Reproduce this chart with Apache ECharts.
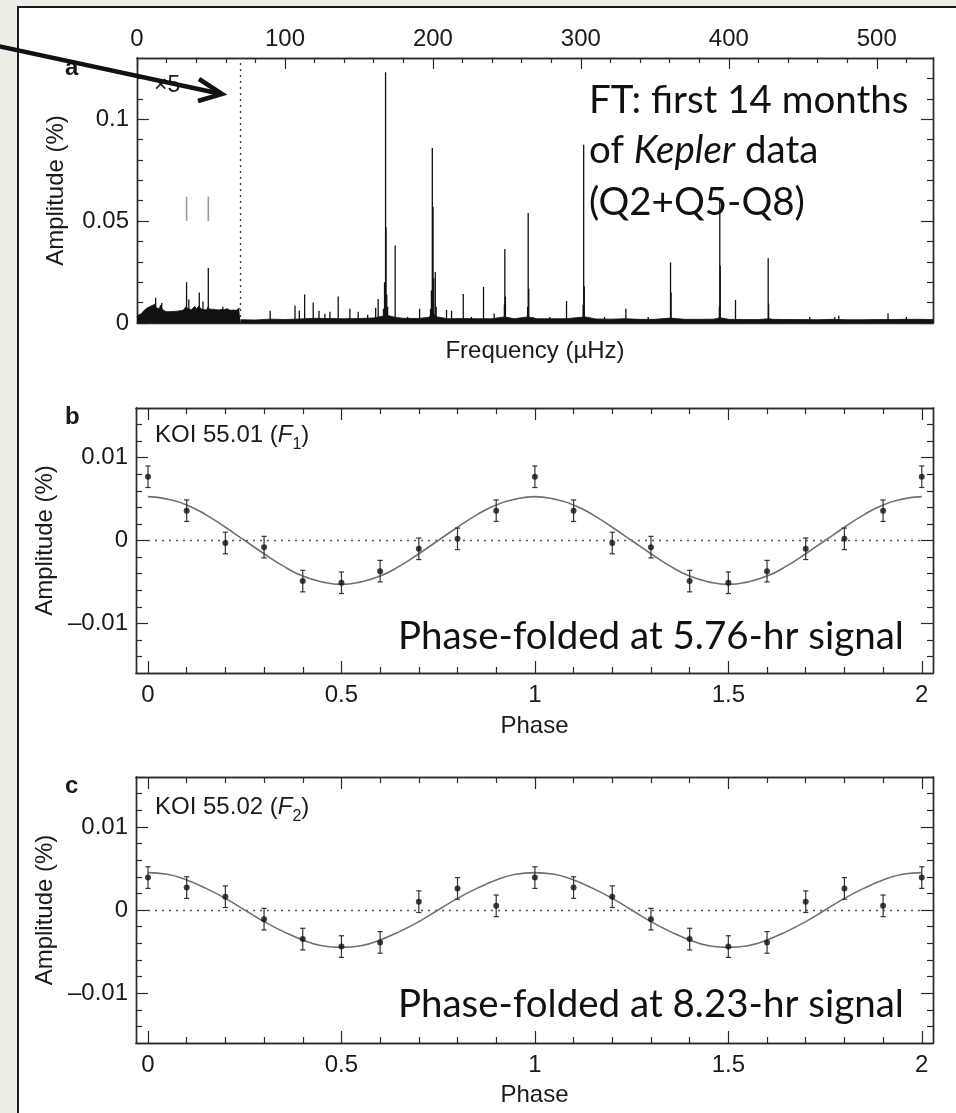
<!DOCTYPE html>
<html><head><meta charset="utf-8">
<script src="https://cdn.jsdelivr.net/npm/echarts@6/dist/echarts.min.js"></script>
<style>
html,body{margin:0;padding:0;width:956px;height:1113px;overflow:hidden;background:#eeede6;}
#panel{position:absolute;left:17px;top:6px;width:980px;height:1140px;border:2px solid #1a1a1a;background:#fff;box-sizing:border-box;}
#chart{position:absolute;left:0;top:0;width:956px;height:1113px;}
</style></head><body>
<div id="panel"></div><div id="chart"></div>
<script>
// ---------- Panel a: Fourier transform (frequency in µHz, amplitude in %) ----------
const freqTickLabels = [0, 100, 200, 300, 400, 500];
const freqMinorTicks = [20,40,60,80,120,140,160,180,220,240,260,280,320,340,360,380,420,440,460,480,520];
const ampTicksA = [0, 0.05, 0.1];
const ampMinorA = [0.01,0.02,0.03,0.04,0.06,0.07,0.08,0.09,0.11,0.12];

// low-frequency region (×5 amplified), noise band
const lowBand = [[0,0.0030],[1,0.0040],[2,0.0048],[3,0.0045],[4,0.0055],[5,0.0062],[6,0.0070],[7,0.0066],[8,0.0078],[9,0.0072],
[10,0.0085],[11,0.0080],[12,0.0092],[13,0.0075],[14,0.0082],[15,0.0070],[16,0.0088],[17,0.0068],[18,0.0062],[19,0.0058],
[20,0.0060],[21,0.0055],[22,0.0058],[23,0.0056],[24,0.0060],[25,0.0057],[26,0.0062],[27,0.0058],[28,0.0064],[29,0.0060],
[30,0.0066],[31,0.0062],[32,0.0070],[33,0.0078],[34,0.0072],[35,0.0068],[36,0.0074],[37,0.0066],[38,0.0070],[39,0.0082],
[40,0.0068],[41,0.0072],[42,0.0085],[43,0.0070],[44,0.0078],[45,0.0066],[46,0.0070],[47,0.0064],[48,0.0080],[49,0.0068],
[50,0.0064],[51,0.0068],[52,0.0062],[53,0.0066],[54,0.0070],[55,0.0064],[56,0.0072],[57,0.0066],[58,0.0074],[59,0.0066],
[60,0.0064],[61,0.0070],[62,0.0066],[63,0.0062],[64,0.0068],[65,0.0064],[66,0.0070],[67,0.0062],[68,0.0066],[69,0.0072],[70,0.0068]];

// noise floor above 70 µHz
const highFloor = [[70,0.0016],[80,0.0015],[90,0.0019],[100,0.0017],[110,0.0020],[120,0.0023],[130,0.0022],[140,0.0021],[150,0.0022],
[160,0.0025],[165,0.0032],[170,0.0036],[175,0.0027],[180,0.0023],[190,0.0022],[197,0.0028],[200,0.0045],[203,0.0030],[210,0.0021],
[220,0.0022],[230,0.0021],[240,0.0021],[248,0.0030],[250,0.0028],[255,0.0021],[264,0.0030],[270,0.0021],[280,0.0021],[290,0.0021],
[300,0.0028],[303,0.0030],[310,0.0020],[320,0.0019],[330,0.0021],[340,0.0018],[350,0.0018],[360,0.0024],[370,0.0018],[380,0.0018],
[390,0.0019],[394,0.0026],[400,0.0018],[410,0.0017],[420,0.0017],[427,0.0021],[430,0.0018],[440,0.0017],[450,0.0017],[460,0.0016],
[470,0.0018],[480,0.0016],[490,0.0016],[500,0.0017],[510,0.0017],[520,0.0018],[530,0.0018],[538,0.0017]];

// individual peaks [frequency, amplitude]
const peaks = [[12.6,0.0124],[16.7,0.0098],[33.5,0.0200],[35.0,0.0115],[42.1,0.0150],[44.6,0.0105],[48.2,0.0270],[58.0,0.0080],
[90.0,0.0060],[106.8,0.0085],[109.7,0.0060],[113.3,0.0140],[119.1,0.0100],[123.0,0.0060],[127.0,0.0045],[130.4,0.0055],
[136.0,0.0130],[143.9,0.0070],[149.5,0.0055],[155.9,0.0040],[161.3,0.0075],[163.0,0.0118],[166.6,0.0070],[167.3,0.0200],
[168.0,0.1230],[168.3,0.0470],[168.8,0.0140],[169.4,0.0080],[174.5,0.0380],[182.9,0.0030],[191.0,0.0070],[198.4,0.0070],
[199.0,0.0160],[199.6,0.0858],[200.1,0.0570],[200.6,0.0220],[201.6,0.0250],[202.2,0.0080],[209.2,0.0064],[212.6,0.0060],
[220.5,0.0142],[226.0,0.0030],[234.2,0.0177],[241.4,0.0047],[248.3,0.0090],[248.6,0.0363],[249.0,0.0130],[264.0,0.0080],
[264.4,0.0540],[264.8,0.0168],[267.8,0.0030],[279.0,0.0030],[290.3,0.0108],[301.5,0.0090],[301.9,0.0874],[302.3,0.0180],
[316.0,0.0030],[330.4,0.0070],[345.5,0.0030],[360.6,0.0297],[361.0,0.0150],[393.6,0.0080],[393.9,0.0597],[394.2,0.0280],
[404.5,0.0113],[426.6,0.0318],[426.9,0.0095],[454.7,0.0030],[471.6,0.0030],[474.3,0.0035],[507.6,0.0047],[520.0,0.0030]];

// grey markers above the two low-frequency peaks [frequency, from, to]
const greyMarks = [[33.5,0.050,0.062],[48.2,0.050,0.062]];

// ---------- Panels b, c: phase-folded light curves ----------
const phaseTicks = [0, 0.5, 1, 1.5, 2];
const phaseMinor = [0.1,0.2,0.3,0.4,0.6,0.7,0.8,0.9,1.1,1.2,1.3,1.4,1.6,1.7,1.8,1.9];
const ampTicksBC = [-0.01, 0, 0.01];
const ampMinorBC = [-0.014,-0.012,-0.008,-0.006,-0.004,-0.002,0.002,0.004,0.006,0.008,0.012,0.014];

const phases = [0,0.1,0.2,0.3,0.4,0.5,0.6,0.7,0.8,0.9,1.0,1.1,1.2,1.3,1.4,1.5,1.6,1.7,1.8,1.9,2.0];
const ampB = [0.0077,0.0036,-0.0003,-0.0008,-0.0049,-0.0051,-0.0037,-0.0010,0.0002,0.0036,0.0077,0.0036,-0.0003,-0.0008,-0.0049,-0.0051,-0.0037,-0.0010,0.0002,0.0036,0.0077];
const errB = [0.0013,0.0013,0.0013,0.0013,0.0013,0.0013,0.0013,0.0013,0.0013,0.0013,0.0013,0.0013,0.0013,0.0013,0.0013,0.0013,0.0013,0.0013,0.0013,0.0013,0.0013];
const ampC = [0.0039,0.0027,0.0016,-0.0011,-0.0035,-0.0044,-0.0039,0.0010,0.0026,0.0005,0.0039,0.0027,0.0016,-0.0011,-0.0035,-0.0044,-0.0039,0.0010,0.0026,0.0005,0.0039];
const errC = [0.0013,0.0013,0.0013,0.0013,0.0013,0.0013,0.0013,0.0013,0.0013,0.0013,0.0013,0.0013,0.0013,0.0013,0.0013,0.0013,0.0013,0.0013,0.0013,0.0013,0.0013];

// fitted curves, read at 0.05 phase steps
const fitPhase = [0,0.05,0.1,0.15,0.2,0.25,0.3,0.35,0.4,0.45,0.5,0.55,0.6,0.65,0.7,0.75,0.8,0.85,0.9,0.95,1.0,
1.05,1.1,1.15,1.2,1.25,1.3,1.35,1.4,1.45,1.5,1.55,1.6,1.65,1.7,1.75,1.8,1.85,1.9,1.95,2.0];
const fitB = [0.0053,0.0050,0.0043,0.0031,0.0016,0,-0.0016,-0.0031,-0.0043,-0.0050,-0.0053,-0.0050,-0.0043,-0.0031,-0.0016,0,0.0016,0.0031,0.0043,0.0050,0.0053,
0.0050,0.0043,0.0031,0.0016,0,-0.0016,-0.0031,-0.0043,-0.0050,-0.0053,-0.0050,-0.0043,-0.0031,-0.0016,0,0.0016,0.0031,0.0043,0.0050,0.0053];
const fitC = [0.0045,0.0043,0.0036,0.0026,0.0014,0,-0.0014,-0.0026,-0.0036,-0.0043,-0.0045,-0.0043,-0.0036,-0.0026,-0.0014,0,0.0014,0.0026,0.0036,0.0043,0.0045,
0.0043,0.0036,0.0026,0.0014,0,-0.0014,-0.0026,-0.0036,-0.0043,-0.0045,-0.0043,-0.0036,-0.0026,-0.0014,0,0.0014,0.0026,0.0036,0.0043,0.0045];

// ---------- chart ----------
const FONT = '"Liberation Sans", Arial, Helvetica, sans-serif';
const BIG = 'Lato, "Open Sans", sans-serif';
const AX = '#2a2a2a', TXT = '#1a1a1a';
const FS = 24, BFS = 38.5;
const fmt = v => (v < 0 ? '\u2013' + String(-v) : String(v));

function mkAxis(o) {
  return {
    type: 'value', gridIndex: o.g, position: o.pos, min: o.min, max: o.max, silent: true,
    axisLine: {show: true, onZero: false, lineStyle: {color: AX, width: 1.4}},
    axisTick: {show: !!o.ticks, inside: true, length: o.len || 6, customValues: o.ticks || [], lineStyle: {color: AX, width: 1.2}},
    axisLabel: {show: !!o.labels, customValues: o.labels || [], fontSize: FS, fontFamily: FONT, color: TXT,
      margin: o.margin == null ? 8 : o.margin, formatter: fmt},
    splitLine: {show: false}, minorTick: {show: false}, minorSplitLine: {show: false},
    name: o.name || '', nameLocation: 'middle', nameGap: o.gap || 30,
    nameTextStyle: {fontSize: FS, fontFamily: FONT, color: TXT}
  };
}
const XA = [0, 538], XP = [-0.031, 2.029], YA = [0, 0.13], YP = [-0.016, 0.016];
const xAxes = [
  mkAxis({g:0,pos:'top',min:XA[0],max:XA[1],ticks:freqTickLabels,len:11,labels:freqTickLabels,margin:7}),
  mkAxis({g:0,pos:'top',min:XA[0],max:XA[1],ticks:freqMinorTicks,len:5}),
  mkAxis({g:0,pos:'bottom',min:XA[0],max:XA[1],name:'Frequency (\u00b5Hz)',gap:16})
];
const yAxes = [
  mkAxis({g:0,pos:'left',min:YA[0],max:YA[1],ticks:ampTicksA,len:12,labels:ampTicksA,name:'Amplitude (%)',gap:69}),
  mkAxis({g:0,pos:'left',min:YA[0],max:YA[1],ticks:ampMinorA,len:6}),
  mkAxis({g:0,pos:'right',min:YA[0],max:YA[1],ticks:ampTicksA,len:12}),
  mkAxis({g:0,pos:'right',min:YA[0],max:YA[1],ticks:ampMinorA,len:6})
];
[1,2].forEach(g => {
  xAxes.push(mkAxis({g,pos:'bottom',min:XP[0],max:XP[1],ticks:phaseTicks,len:12,labels:phaseTicks,margin:10,name:'Phase',gap:g===1?41:40}));
  xAxes.push(mkAxis({g,pos:'bottom',min:XP[0],max:XP[1],ticks:phaseMinor,len:6}));
  xAxes.push(mkAxis({g,pos:'top',min:XP[0],max:XP[1],ticks:phaseTicks,len:12}));
  xAxes.push(mkAxis({g,pos:'top',min:XP[0],max:XP[1],ticks:phaseMinor,len:6}));
  yAxes.push(mkAxis({g,pos:'left',min:YP[0],max:YP[1],ticks:ampTicksBC,len:12,labels:ampTicksBC,name:'Amplitude (%)',gap:69}));
  yAxes.push(mkAxis({g,pos:'left',min:YP[0],max:YP[1],ticks:ampMinorBC,len:6}));
  yAxes.push(mkAxis({g,pos:'right',min:YP[0],max:YP[1],ticks:ampTicksBC,len:12}));
  yAxes.push(mkAxis({g,pos:'right',min:YP[0],max:YP[1],ticks:ampMinorBC,len:6}));
});

function vline(params, api) {
  const x = api.value(0), a = api.value(1);
  const p0 = api.coord([x, 0]), p1 = api.coord([x, a]);
  return {type: 'line', shape: {x1: p0[0], y1: p0[1], x2: p1[0], y2: p1[1]}, style: {stroke: '#111', lineWidth: 1.3}};
}
function greyLine(params, api) {
  const x = api.value(0);
  const p0 = api.coord([x, api.value(1)]), p1 = api.coord([x, api.value(2)]);
  return {type: 'line', shape: {x1: p0[0], y1: p0[1], x2: p1[0], y2: p1[1]}, style: {stroke: '#9a9a9a', lineWidth: 1.6}};
}
function errRender(params, api) {
  const x = api.value(0);
  const p1 = api.coord([x, api.value(1)]), p2 = api.coord([x, api.value(2)]);
  const w = 2.6, st = {stroke: '#333', lineWidth: 1.2};
  return {type: 'group', children: [
    {type: 'line', shape: {x1: p1[0], y1: p1[1], x2: p2[0], y2: p2[1]}, style: st},
    {type: 'line', shape: {x1: p1[0]-w, y1: p1[1], x2: p1[0]+w, y2: p1[1]}, style: st},
    {type: 'line', shape: {x1: p2[0]-w, y1: p2[1], x2: p2[0]+w, y2: p2[1]}, style: st}
  ]};
}

function phasePanel(xi, yi, vals, errs, fit) {
  return [
    {type: 'line', xAxisIndex: xi, yAxisIndex: yi, data: fitPhase.map((p, i) => [p, fit[i]]), smooth: true,
      symbol: 'none', lineStyle: {color: '#707070', width: 1.6}, z: 3,
      markLine: {silent: true, symbol: ['none','none'], label: {show: false}, z: 1,
        lineStyle: {type: [2, 5], color: '#555', width: 1.3},
        data: [[{coord: [0, 0]}, {coord: [2, 0]}]]}},
    {type: 'custom', xAxisIndex: xi, yAxisIndex: yi, renderItem: errRender, encode: {x: 0, y: [1, 2]}, z: 4,
      data: phases.map((p, i) => [p, vals[i] - errs[i], vals[i] + errs[i]])},
    {type: 'scatter', xAxisIndex: xi, yAxisIndex: yi, symbol: 'circle', symbolSize: 6, z: 5,
      itemStyle: {color: '#111'}, data: phases.map((p, i) => [p, vals[i]])}
  ];
}

const series = [
  {type: 'line', xAxisIndex: 0, yAxisIndex: 0, data: lowBand, symbol: 'none',
    lineStyle: {color: '#111', width: 0.8}, areaStyle: {color: '#111', opacity: 1},
    markLine: {silent: true, symbol: ['none','none'], label: {show: false},
      lineStyle: {type: [2, 4], color: '#333', width: 1.3}, data: [{xAxis: 70}]}},
  {type: 'line', xAxisIndex: 0, yAxisIndex: 0, data: highFloor, symbol: 'none',
    lineStyle: {color: '#111', width: 0.8}, areaStyle: {color: '#111', opacity: 1}},
  {type: 'custom', xAxisIndex: 0, yAxisIndex: 0, renderItem: vline, encode: {x: 0, y: 1}, data: peaks},
  {type: 'custom', xAxisIndex: 0, yAxisIndex: 0, renderItem: greyLine, encode: {x: 0, y: [1, 2]}, data: greyMarks},
  ...phasePanel(3, 4, ampB, errB, fitB),
  ...phasePanel(7, 8, ampC, errC, fitC)
];

const txt = (x, y, text, extra) => ({type: 'text', x, y, z: 50,
  style: Object.assign({text, fontSize: FS, fontFamily: FONT, fill: TXT, align: 'left', verticalAlign: 'middle'}, extra || {})});
const koiRich = {
  n: {fontSize: 24, fontFamily: FONT, fill: TXT, lineHeight: 36},
  i: {fontSize: 24, fontFamily: FONT, fill: TXT, fontStyle: 'italic', lineHeight: 36},
  s: {fontSize: 16, fontFamily: FONT, fill: TXT, lineHeight: 16, verticalAlign: 'bottom'}
};
const bigRich = {i: {fontSize: BFS, fontFamily: BIG, fill: '#111', fontStyle: 'italic'}};
const bigStyle = {fontSize: BFS, fontFamily: BIG, fill: '#111'};

const graphic = [
  txt(65, 68, 'a', {fontWeight: 'bold', fontSize: 24}),
  txt(65, 417, 'b', {fontWeight: 'bold', fontSize: 24}),
  txt(65, 786, 'c', {fontWeight: 'bold', fontSize: 24}),
  txt(154, 86, '\u00d75', {fontSize: 23}),
  {type: 'text', x: 155, y: 417, z: 50, style: {text: '{n|KOI 55.01 (}{i|F}{s|1}{n|)}', rich: koiRich, verticalAlign: 'top', align: 'left'}},
  {type: 'text', x: 155, y: 789, z: 50, style: {text: '{n|KOI 55.02 (}{i|F}{s|2}{n|)}', rich: koiRich, verticalAlign: 'top', align: 'left'}},
  txt(589, 101, 'FT: first 14 months', bigStyle),
  txt(589, 151, 'of {i|Kepler} data', Object.assign({rich: bigRich}, bigStyle)),
  txt(589, 203, '(Q2+Q5-Q8)', bigStyle),
  txt(398, 637, 'Phase-folded at 5.76-hr signal', bigStyle),
  txt(398, 1005, 'Phase-folded at 8.23-hr signal', bigStyle),
  {type: 'polyline', z: 60, shape: {points: [[-2, 46], [219, 93.5]]}, style: {stroke: '#111', lineWidth: 4.5, fill: null}},
  {type: 'polyline', z: 60, shape: {points: [[199, 79], [222, 94], [198, 101]]}, style: {stroke: '#111', lineWidth: 4.5, fill: null, lineJoin: 'miter'}}
];

const chart = echarts.init(document.getElementById('chart'), null, {renderer: 'canvas'});
chart.setOption({
  animation: false,
  backgroundColor: 'transparent',
  grid: [
    {left: 137, top: 58, width: 796, height: 265, outerBoundsMode: 'none', containLabel: false},
    {left: 136, top: 408, width: 797, height: 265, outerBoundsMode: 'none', containLabel: false},
    {left: 136, top: 777, width: 797, height: 266, outerBoundsMode: 'none', containLabel: false}
  ],
  xAxis: xAxes,
  yAxis: yAxes,
  series: series,
  graphic: graphic
});
</script>
</body></html>
